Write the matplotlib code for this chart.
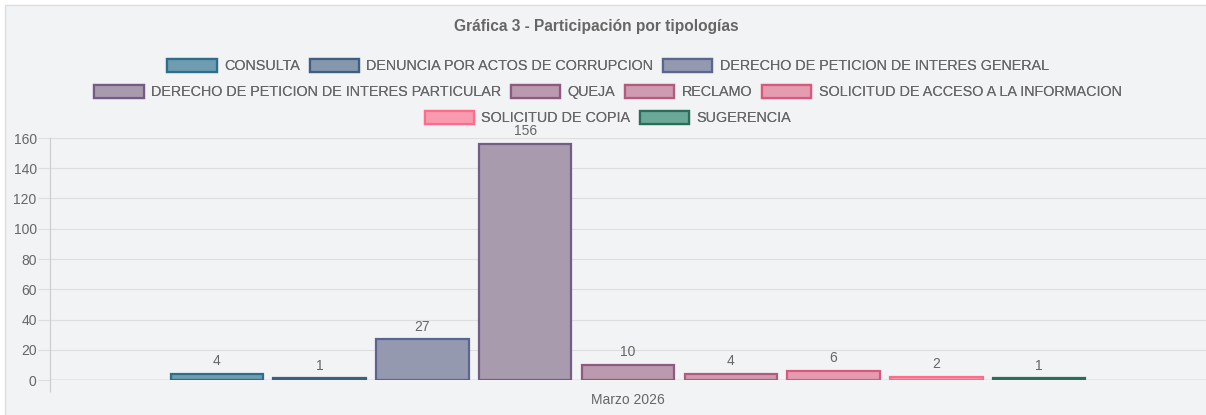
import matplotlib
matplotlib.use("Agg")
import matplotlib.pyplot as plt
from matplotlib.patches import Patch, Rectangle

categories = [
    "CONSULTA",
    "DENUNCIA POR ACTOS DE CORRUPCION",
    "DERECHO DE PETICION DE INTERES GENERAL",
    "DERECHO DE PETICION DE INTERES PARTICULAR",
    "QUEJA",
    "RECLAMO",
    "SOLICITUD DE ACCESO A LA INFORMACION",
    "SOLICITUD DE COPIA",
    "SUGERENCIA",
]
values = [4, 1, 27, 156, 10, 4, 6, 2, 1]
period = "Marzo 2026"
y_ticks = [0, 20, 40, 60, 80, 100, 120, 140, 160]
legend_rows = [3, 4, 2]

edge_colors = ["#2c6e8c", "#3e5f82", "#5a6590", "#735d86", "#8e5a80",
               "#b35b7d", "#d9587e", "#ff6b8a", "#2a6e5a"]
fill_colors = ["#6e9db1", "#8497ad", "#9499b0", "#a89bae", "#bb9aaf",
               "#cf9bb0", "#e59cb0", "#f99bae", "#6aa898"]

plt.rcParams["font.family"] = ["Liberation Sans", "DejaVu Sans"]

W, H = 1206, 415
fig = plt.figure(figsize=(W / 100, H / 100), dpi=100)
fig.patch.set_facecolor("#ffffff")
fig.patches.append(Rectangle((5 / W, -0.1), 1.2, 1 - 5 / H + 0.1,
                             transform=fig.transFigure, facecolor="#f2f3f5",
                             edgecolor="#dcdde0", lw=1.0, zorder=-10))

ax = fig.add_axes([50 / W, (H - 380) / H, (W - 50) / W, (380 - 138) / H])
ax.set_facecolor("none")

n = len(values)
slot = 0.8 / n
xs = [-0.4 + slot * (i + 0.5) for i in range(n)]
bars = ax.bar(xs, values, width=slot * 0.9, color=fill_colors,
              edgecolor=edge_colors, linewidth=1.6, zorder=3)

for x, v in zip(xs, values):
    ax.annotate(str(v), (x, v), xytext=(0, 4), textcoords="offset points",
                ha="center", va="bottom", fontsize=10, color="#666666")

ax.set_xlim(-0.5, 0.5)
ax.set_ylim(0, 160)
ax.set_yticks(y_ticks)
ax.set_xticks([0])
ax.set_xticklabels([period])
ax.set_xticks([-0.5], minor=True)
ax.tick_params(axis="x", which="major", length=0, pad=9, labelsize=10,
               labelcolor="#666666")
ax.tick_params(axis="x", which="minor", length=8.6, width=0.8,
               color="#cccccc", direction="out")
ax.tick_params(axis="y", length=8.6, width=0.8, color="#dedede", pad=1,
               labelsize=10, labelcolor="#666666")
ax.grid(axis="y", color="#dedede", linewidth=0.8, zorder=0)
ax.axhline(0, color="#bdbdbd", linewidth=1.0, zorder=2)

for s in ["top", "right", "bottom"]:
    ax.spines[s].set_visible(False)
ax.spines["left"].set_color("#cccccc")
ax.spines["left"].set_linewidth(0.8)

fig.text(596 / W, 1 - 26 / H, "Gráfica 3 - Participación por tipologías",
         ha="center", va="center", fontsize=11.2, fontweight="bold",
         color="#666666")

handles = [Patch(facecolor=f, edgecolor=e, linewidth=1.6)
           for f, e in zip(fill_colors, edge_colors)]
row_y = [66, 92, 118]
start = 0
for count, y in zip(legend_rows, row_y):
    leg = fig.legend(handles[start:start + count],
                     categories[start:start + count],
                     loc="center", bbox_to_anchor=(608 / W, 1 - y / H),
                     ncol=count, frameon=False, fontsize=10.4,
                     handlelength=3.4, handleheight=1.0, handletextpad=0.5,
                     columnspacing=0.7, borderpad=0, borderaxespad=0,
                     labelcolor="#666666")
    fig.add_artist(leg)
    start += count

fig.savefig("out.png", dpi=100)
